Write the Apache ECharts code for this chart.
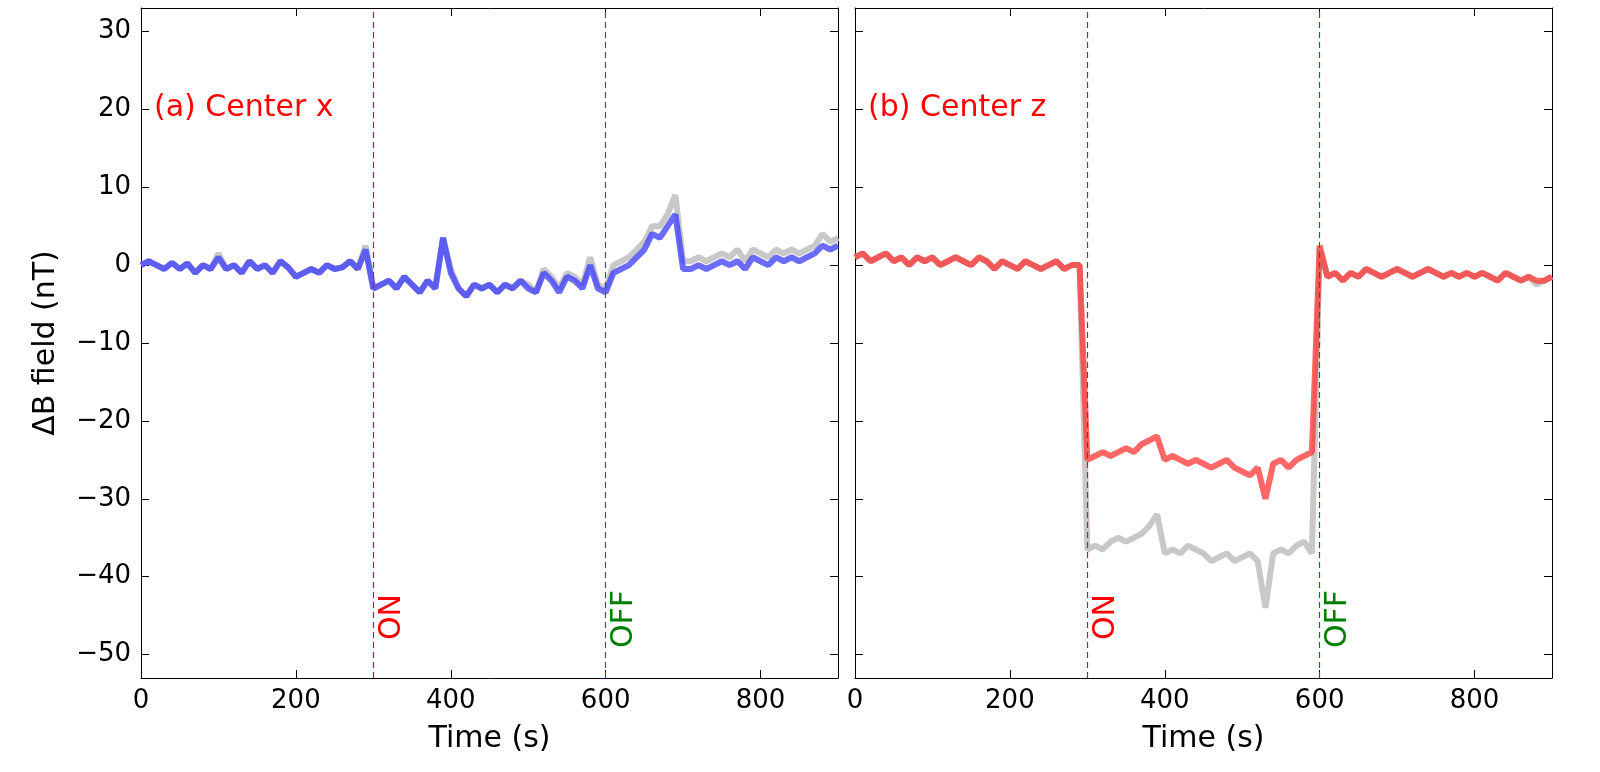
<!DOCTYPE html>
<html><head><meta charset="utf-8">
<script src="https://cdn.jsdelivr.net/npm/echarts@6/dist/echarts.min.js"></script>
<style>html,body{margin:0;background:#fff;overflow:hidden}#c{width:100vw;height:100vh}</style>
</head><body><div id="c"></div>
<script>
// time grid, 10 s steps 0..900
var times = [];
for (var t = 0; t <= 900; t += 10) times.push(t);

var xBlue = [0,0.5,0,-0.5,0.3,-0.5,0.2,-1,0,-0.5,1,-0.5,0,-1,0.5,-0.5,0,-1,0.5,-0.3,
  -1.5,-1,-0.5,-1,0,-0.5,-0.3,0.5,-0.5,2,-3,-2.5,-2,-3,-1.5,-2.5,-3.5,-2,-3,3.5,
  -1,-3,-4,-2.5,-3,-2.5,-3.5,-2.5,-3,-2,-3,-3.5,-1,-2,-3.5,-1.5,-2,-3,0,-3,
  -3.5,-1,-0.5,0,1,2,4,3.5,5,6.5,-0.5,-0.5,0,-0.5,0,0.5,0,0.5,-0.5,1,
  0.5,0,1,0.5,1,0.5,1,1.5,2.5,2,2.5];
var xGray = [0,0.5,0,-0.5,0.3,-0.5,0.2,-1,0,-0.5,1.5,-0.5,0,-1,0.5,-0.5,0,-1,0.5,-0.3,
  -1.5,-1,-0.5,-1,0,-0.5,-0.3,0.5,-0.5,2.5,-3,-2.5,-2,-3,-1.5,-2.5,-3.5,-2,-3,3.5,
  -0.5,-3,-4,-2.5,-3,-2.5,-3.5,-2.5,-3,-2,-2.5,-3.5,-0.5,-1.5,-3,-1,-1.5,-2.5,1,-2.5,
  -3,0,0.5,1,2,3,5,5,6.5,9,0.5,0.5,1,0.5,1,1.5,1,2,0.5,2,
  1.5,1,2,1.5,2,1.5,2,2.5,4,3,3.5];
var zRed = [1,1.5,0.5,1,1.5,0.5,1,0,1,0.5,1,0,0.5,1,0.5,0,1,0.5,-0.5,0.5,
  0,-0.5,0.5,0,-0.5,0,0.5,-0.5,0,0,-25,-24.5,-24,-24.5,-24,-23.5,-24,-23,-22.5,-22,
  -25,-24.5,-25,-25.5,-25,-25.5,-26,-25.5,-25,-26,-26.5,-27,-26,-30,-25.5,-25,-26,-25,-24.5,-24,
  2.5,-1.5,-1,-2,-1,-1.5,-0.5,-1,-1.5,-1,-0.5,-1,-1.5,-1,-0.5,-1,-1.5,-1,-1.5,-1,
  -1.5,-1,-1.5,-2,-1,-1.5,-2,-1.5,-2,-2,-1.5];
var zGray = [1,1.5,0.5,1,1.5,0.5,1,0,1,0.5,1,0,0.5,1,0.5,0,1,0.5,-0.5,0.5,
  0,-0.5,0.5,0,-0.5,0,0.5,-0.5,0,0,-36.5,-36,-36.5,-35.5,-35,-35.5,-35,-34.5,-33.5,-32,
  -37,-36.5,-37,-36,-36.5,-37,-38,-37.5,-37,-38,-37.5,-37,-38,-44,-37,-36.5,-37,-36,-35.5,-37,
  2,-1.5,-1,-2,-1,-1.5,-0.5,-1,-1.5,-1,-0.5,-1,-1.5,-1,-0.5,-1,-1.5,-1,-1.5,-1,
  -1.5,-1,-1.5,-2,-1,-1.5,-2,-1.5,-2.5,-2,-1.5];

var xTicks = [0, 200, 400, 600, 800];
var yTicks = [-50, -40, -30, -20, -10, 0, 10, 20, 30];
var events = [300, 600];

function pairs(v) { return times.map(function (t, i) { return [t, v[i]]; }); }

var font = 'DejaVu Sans';
var axLine = {show: true, onZero: false, lineStyle: {color: '#000', width: 1}};
function xAx(g, top) {
  return {type: 'value', gridIndex: g, min: 0, max: 900, position: top ? 'top' : 'bottom',
    axisLine: axLine, splitLine: {show: false},
    axisTick: {inside: true, length: 8, customValues: xTicks, lineStyle: {color: '#000'}},
    axisLabel: {show: !top, customValues: xTicks, color: '#000', fontSize: 26, fontFamily: font, margin: 10},
    name: top ? '' : 'Time (s)', nameLocation: 'middle', nameGap: 46,
    nameTextStyle: {fontSize: 30, fontFamily: font, color: '#000'}};
}
function yAx(g, right, labels) {
  return {type: 'value', gridIndex: g, min: -53, max: 33, position: right ? 'right' : 'left',
    axisLine: axLine, splitLine: {show: false},
    axisTick: {inside: true, length: 8, customValues: yTicks, lineStyle: {color: '#000'}},
    axisLabel: {show: labels, customValues: yTicks, color: '#000', fontSize: 26, fontFamily: font, margin: 10,
      formatter: function (v) { return v < 0 ? '\u2212' + (-v) : '' + v; }},
    name: labels ? '\u0394B field (nT)' : '', nameLocation: 'middle', nameGap: 80,
    nameTextStyle: {fontSize: 30, fontFamily: font, color: '#000'}};
}
function marks() {
  return {symbol: 'none', silent: true, animation: false,
    data: [
      {xAxis: events[0], lineStyle: {color: '#ff0000', type: [6, 4], width: 1.2},
        label: {formatter: 'ON', color: '#ff0000', position: 'insideStartBottom', fontSize: 30, fontFamily: font, distance: [38, 4]}},
      {xAxis: events[1], lineStyle: {color: '#008000', type: [6, 4], width: 1.2},
        label: {formatter: 'OFF', color: '#008000', position: 'insideStartBottom', fontSize: 30, fontFamily: font, distance: [30, 4]}}
    ]};
}
function line(g, data, color, op, ml) {
  var s = {type: 'line', xAxisIndex: g * 2, yAxisIndex: g * 2, data: pairs(data), showSymbol: false,
    lineStyle: {color: color, width: 6, opacity: op}, animation: false};
  if (ml) s.markLine = marks();
  return s;
}

var chart = echarts.init(document.getElementById('c'));
chart.setOption({
  backgroundColor: '#fff',
  grid: [{left: 141, right: 762, top: 8, bottom: 94}, {left: 855, right: 48, top: 8, bottom: 94}],
  xAxis: [xAx(0, false), xAx(0, true), xAx(1, false), xAx(1, true)],
  yAxis: [yAx(0, false, true), yAx(0, true, false), yAx(1, false, false), yAx(1, true, false)],
  title: [
    {text: '(a) Center x', left: 149, top: 88, textStyle: {color: '#ff0000', fontSize: 30, fontWeight: 'normal', fontFamily: font}},
    {text: '(b) Center z', left: 863, top: 88, textStyle: {color: '#ff0000', fontSize: 30, fontWeight: 'normal', fontFamily: font}}
  ],
  series: [
    line(0, xGray, '#c8c8c8', 1, false),
    line(0, xBlue, '#3a3aff', 0.75, true),
    line(1, zGray, '#c8c8c8', 1, false),
    line(1, zRed, '#ff3333', 0.75, true)
  ]
});
</script></body></html>
